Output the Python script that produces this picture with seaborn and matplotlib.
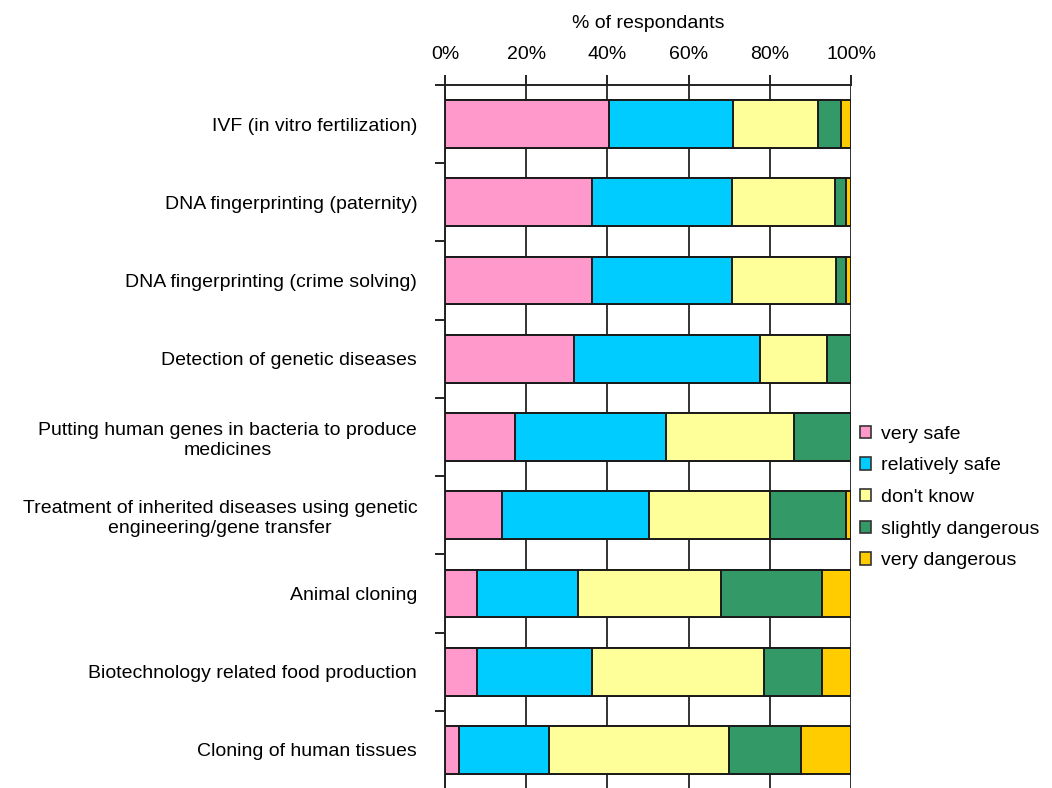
import numpy as np
import pandas as pd
import seaborn as sns
import matplotlib.pyplot as plt
from matplotlib.patches import Patch
from matplotlib.ticker import FixedLocator

categories = [
    "IVF (in vitro fertilization)",
    "DNA fingerprinting (paternity)",
    "DNA fingerprinting (crime solving)",
    "Detection of genetic diseases",
    "Putting human genes in bacteria to produce\nmedicines",
    "Treatment of inherited diseases using genetic\nengineering/gene transfer",
    "Animal cloning",
    "Biotechnology related food production",
    "Cloning of human tissues",
]

series = ["very safe", "relatively safe", "don't know", "slightly dangerous", "very dangerous"]

very_safe = [40.4, 36.1, 36.2, 31.7, 17.3, 14.0, 8.0, 8.0, 3.4]
relatively_safe = [30.5, 34.6, 34.5, 46.0, 37.1, 36.3, 24.8, 28.2, 22.1]
dont_know = [20.9, 25.4, 25.5, 16.5, 31.6, 29.7, 35.3, 42.4, 44.5]
slightly_dangerous = [5.7, 2.6, 2.5, 5.8, 14.0, 18.8, 24.8, 14.3, 17.8]
very_dangerous = [2.5, 1.3, 1.3, 0.0, 0.0, 1.2, 7.1, 7.1, 12.2]

colors = ["#FF99CC", "#00CCFF", "#FFFF99", "#339966", "#FFCC00"]

df = pd.DataFrame({
    "category": categories,
    "very safe": very_safe,
    "relatively safe": relatively_safe,
    "don't know": dont_know,
    "slightly dangerous": slightly_dangerous,
    "very dangerous": very_dangerous,
})
# cumulative totals so the stacked bars can be layered
cum = df[series].cumsum(axis=1)

sns.set_style("white")
plt.rcParams["font.family"] = ["Liberation Sans", "DejaVu Sans"]
plt.rcParams["font.size"] = 14
plt.rcParams["text.color"] = "black"
plt.rcParams["axes.labelcolor"] = "black"
plt.rcParams["xtick.color"] = "black"
plt.rcParams["ytick.color"] = "black"

fig = plt.figure(figsize=(10.52, 7.88), dpi=100)
ax = fig.add_axes([445 / 1052, -1 / 788, 406 / 1052, 704 / 788])

# draw from the largest cumulative total down, each one covers the previous
for s, c in reversed(list(zip(series, colors))):
    sns.barplot(x=cum[s], y=df["category"], orient="h", color=c, width=0.61,
                edgecolor="#1a1a1a", linewidth=1.4, saturation=1, ax=ax, zorder=3)

ax.set_xlim(0, 100)
ax.set_ylim(8.5, -0.5)
ax.set_xticks([0, 20, 40, 60, 80, 100])
ax.set_xticklabels(["0%", "20%", "40%", "60%", "80%", "100%"])
ax.xaxis.tick_top()
ax.xaxis.set_label_position("top")
ax.set_xlabel("% of respondants", labelpad=13)
ax.set_ylabel("")
ax.tick_params(axis="x", which="major", direction="out", length=7, width=1.4,
               color="#222222", pad=9, top=True, bottom=False)

ax.yaxis.set_minor_locator(FixedLocator(np.arange(-0.5, 9.0, 1.0)))
ax.tick_params(axis="y", which="major", length=0, pad=20)
ax.tick_params(axis="y", which="minor", left=True, direction="out", length=7,
               width=1.4, color="#222222")
for lab in ax.get_yticklabels():
    lab.set_multialignment("center")

ax.set_axisbelow(True)
ax.xaxis.grid(True, color="#333333", linewidth=1.4)
ax.yaxis.grid(False)
for side in ["right", "bottom"]:
    ax.spines[side].set_visible(False)
for side in ["left", "top"]:
    ax.spines[side].set_color("#222222")
    ax.spines[side].set_linewidth(1.4)

handles = [Patch(facecolor=c, edgecolor="#333333", linewidth=1.2, label=s)
           for s, c in zip(series, colors)]
fig.legend(handles=handles, loc="upper left", bbox_to_anchor=(852 / 1052, 1 - 418 / 788),
           frameon=False, handlelength=0.6, handleheight=0.6, handletextpad=0.5,
           labelspacing=0.75, borderaxespad=0, fontsize=14)

fig.savefig("out.png", dpi=100)
